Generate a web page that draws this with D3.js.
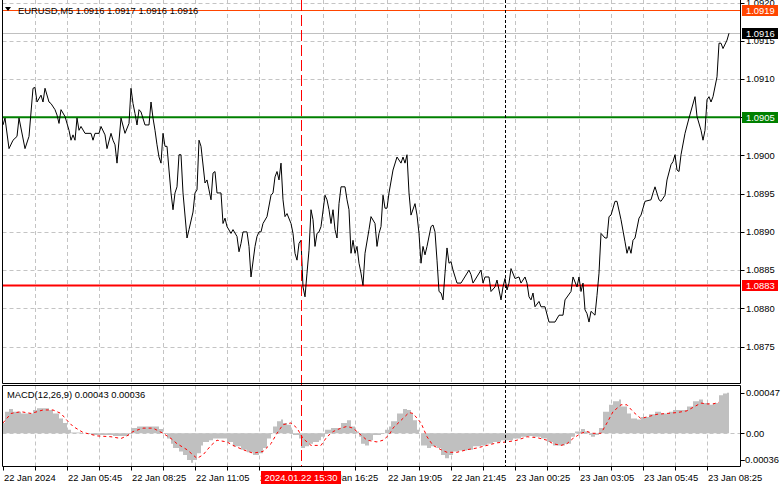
<!DOCTYPE html>
<html><head><meta charset="utf-8">
<script src="https://cdn.jsdelivr.net/npm/d3@7"></script>
<style>
html,body{margin:0;padding:0;background:#fff;}
svg{display:block;}
text{font-family:"Liberation Sans",Arial,sans-serif;font-size:9.4px;fill:#000;}
</style></head><body><svg id="c" width="781" height="489"></svg>
<script>
// ---------- DATA ----------
const headerText = "EURUSD,M5  1.0916 1.0917 1.0916 1.0916";
const macdTitle = "MACD(12,26,9) 0.00043 0.00036";

// bar index (5-minute bars from 22 Jan 03:05) and close price
const priceBars = [0,1,3,5,7,8,11,13,15,16,17,19,20,21,23,24,26,27,28,29,31,33,34,35,36,37,38,39,41,44,45,46,48,49,51,52,54,55,56,57,59,61,63,64,65,66,67,68,69,71,73,74,75,76,77,78,79,80,81,82,83,84,85,86,87,88,89,90,92,93,95,96,97,98,99,101,102,103,104,105,106,107,109,110,111,112,114,115,117,118,119,120,122,123,124,126,127,128,
129,130,132,134,135,136,137,138,139,140,141,142,144,145,146,147,148,149,150,151,152,153,154,155,156,157,158,159,161,162,163,164,165,166,167,168,169,171,172,173,174,175,176,177,178,179,180,181,183,184,186,187,188,189,190,191,192,193,195,197,199,200,201,202,203,204,206,207,208,209,210,211,212,214,215,216,217,218,219,220,221,222,223,224,225,227,229,233,234,235,239,240,241,243,244,246,247,249,250,
251,252,253,254,256,258,259,261,262,263,264,265,266,268,269,271,273,276,278,280,281,284,285,287,288,289,290,291,292,293,294,296,297,298,299,301,302,303,304,306,307,309,311,312,313,314,315,316,318,319,321,324,325,326,328,329,331,332,334,335,336,337,338,339,341,343,346,347,349,350,351,352,353,354,355,357,358,359,360,362,363];
const priceClose = [1.09040,1.09049,1.09009,1.09020,1.09025,1.09049,1.09009,1.09025,1.09088,1.09089,1.09070,1.09079,1.09070,1.09088,1.09070,1.09068,1.09060,1.09053,1.09042,1.09060,1.09051,1.09033,1.09020,1.09027,1.09020,1.09049,1.09033,1.09038,1.09029,1.09029,1.09020,1.09029,1.09029,1.09038,1.09027,1.09009,1.09029,1.09020,1.09014,1.08990,1.09049,1.09029,1.09042,1.09088,1.09068,1.09055,1.09040,1.09060,1.09057,1.09040,1.09040,1.09070,1.09049,1.09033,1.09014,1.08998,1.08990,1.09029,1.09012,1.09012,1.08981,1.08951,1.08929,1.08951,1.08959,1.09001,1.09001,1.08951,1.08892,1.08903,1.08926,1.08951,1.08955,1.09020,1.09012,1.08964,1.08968,1.08955,1.08942,1.08977,1.08979,1.08951,1.08951,1.08911,1.08918,1.08907,1.08898,1.08903,1.08894,1.08874,1.08885,1.08900,1.08900,1.08881,1.08841,1.08881,1.08894,1.08900,
1.08900,1.08911,1.08920,1.08948,1.08951,1.08972,1.08979,1.08968,1.08990,1.08942,1.08920,1.08924,1.08911,1.08898,1.08872,1.08863,1.08885,1.08889,1.08828,1.08815,1.08846,1.08876,1.08929,1.08916,1.08881,1.08898,1.08900,1.08907,1.08948,1.08942,1.08929,1.08911,1.08929,1.08903,1.08892,1.08937,1.08959,1.08959,1.08942,1.08929,1.08872,1.08889,1.08872,1.08881,1.08859,1.08846,1.08830,1.08872,1.08903,1.08920,1.08911,1.08881,1.08898,1.08907,1.08948,1.08931,1.08931,1.08951,1.08981,1.08998,1.08990,1.08998,1.08990,1.09001,1.08951,1.08922,1.08937,1.08922,1.08898,1.08859,1.08881,1.08870,1.08881,1.08907,1.08909,1.08900,1.08863,1.08822,1.08820,1.08811,1.08846,1.08879,1.08859,1.08861,1.08850,1.08833,1.08833,1.08850,1.08844,1.08833,1.08850,1.08833,1.08841,1.08841,1.08822,1.08828,1.08837,1.08811,1.08828,
1.08839,1.08824,1.08833,1.08852,1.08839,1.08841,1.08833,1.08841,1.08833,1.08815,1.08811,1.08820,1.08802,1.08809,1.08802,1.08802,1.08782,1.08782,1.08791,1.08791,1.08811,1.08822,1.08841,1.08828,1.08841,1.08822,1.08833,1.08798,1.08793,1.08782,1.08796,1.08791,1.08817,1.08846,1.08898,1.08892,1.08892,1.08920,1.08922,1.08940,1.08940,1.08916,1.08887,1.08872,1.08881,1.08872,1.08889,1.08892,1.08918,1.08922,1.08940,1.08942,1.08951,1.08959,1.08942,1.08940,1.08948,1.08968,1.08988,1.08992,1.09001,1.08981,1.08979,1.09001,1.09029,1.09049,1.09077,1.09051,1.09033,1.09020,1.09033,1.09073,1.09077,1.09070,1.09077,1.09103,1.09147,1.09147,1.09140,1.09151,1.09160];

// MACD main (histogram) and signal
const macdBars = [0,1,3,5,9,11,14,15,17,20,23,25,28,30,32,34,39,44,49,55,60,63,64,67,70,75,78,80,82,84,85,88,90,92,94,95,97,99,100,103,105,109,112,115,119,122,125,128,130,132,134,135,137,139,140,142,144,145,148,149,151,153,155,158,159,161,164,167,169,172,174,176,178,179,181,183,185,189,191,193,194,197,200,202,204,205,207,208,209,212,214,217,219,221,223,225,228,232,235,239,242,245,249,252,255,259,262,265,269,272,275,279,281,284,286,289,291,293,294,296,298,300,303,305,308,309,312,314,317,319,323,326,329,333,335,339,342,345,348,350,353,355,358,360,362,363];
const macdValues = [0.00012,0.00025,0.00028,0.00025,0.00023,0.00023,0.00023,0.00027,0.00029,0.00029,0.00027,0.00023,0.00017,0.00012,0.00004,0.00001,0,-0.00002,-0.00002,-0.00003,-0.00003,0,0.00006,0.00008,0.00008,0.00008,0.00005,0,-0.00006,-0.00012,-0.00017,-0.00021,-0.00025,-0.00031,-0.00034,-0.00031,-0.00023,-0.00014,-0.00010,-0.00008,-0.00006,-0.00006,-0.00010,-0.00015,-0.00019,-0.00022,-0.00025,-0.00023,-0.00017,-0.00006,0,0.00008,0.00014,0.00016,0.00012,0.00010,0.00004,-0.00002,-0.00006,-0.00017,-0.00015,-0.00012,-0.00010,-0.00008,-0.00004,0.00004,0.00006,0.00006,0.00012,0.00015,0.00008,0.00002,-0.00004,-0.00012,-0.00014,-0.00008,-0.00002,0,0.00004,0.00008,0.00014,0.00023,0.00028,0.00027,0.00023,0.00015,0.00004,0,-0.00014,-0.00017,-0.00015,-0.00017,-0.00025,-0.00029,-0.00025,-0.00021,-0.00020,-0.00019,-0.00015,-0.00014,-0.00012,-0.00010,-0.00008,-0.00008,-0.00006,-0.00004,-0.00003,-0.00004,-0.00006,-0.00010,-0.00014,-0.00014,-0.00012,-0.00004,0.00002,0.00005,0.00002,-0.00002,-0.00004,-0.00002,0.00006,0.00025,0.00033,0.00037,0.00039,0.00031,0.00023,0.00017,0.00016,0.00019,0.00022,0.00025,0.00023,0.00025,0.00027,0.00027,0.00031,0.00037,0.00039,0.00035,0.00033,0.00035,0.00044,0.00046,0.00047,0.00047];
const signalBars = [0,4,9,14,20,25,29,32,35,40,47,54,59,62,65,70,75,80,84,87,92,97,100,104,107,112,115,120,125,130,134,137,140,144,147,150,154,159,162,165,169,172,175,179,182,187,190,193,195,199,203,205,209,212,215,219,222,227,232,237,242,247,252,257,262,267,272,275,279,282,285,289,292,295,299,302,305,309,312,315,319,322,327,332,337,342,345,349,352,355,358];
const signalValues = [0.00012,0.00023,0.00025,0.00023,0.00027,0.00027,0.00023,0.00015,0.00008,0.00001,-0.00003,-0.00004,-0.00006,-0.00003,0.00002,0.00006,0.00006,0,-0.00006,-0.00012,-0.00019,-0.00029,-0.00025,-0.00014,-0.00008,-0.00010,-0.00014,-0.00019,-0.00023,-0.00021,-0.00012,0,0.00010,0.00012,0.00006,-0.00006,-0.00014,-0.00014,-0.00004,0.00002,0.00006,0.00008,0.00006,-0.00002,-0.00008,-0.00010,-0.00008,-0.00002,0.00006,0.00015,0.00024,0.00023,0.00012,-0.00004,-0.00014,-0.00019,-0.00022,-0.00022,-0.00019,-0.00017,-0.00014,-0.00011,-0.00010,-0.00008,-0.00004,-0.00005,-0.00008,-0.00012,-0.00014,-0.00012,-0.00006,0,0.00002,0,0,0.00012,0.00025,0.00033,0.00033,0.00025,0.00017,0.00019,0.00022,0.00023,0.00024,0.00026,0.00030,0.00035,0.00034,0.00034,0.00036];

const priceTicks = [1.0875,1.0880,1.0885,1.0890,1.0895,1.0900,1.0905,1.0910,1.0915,1.0920];
const macdTicks = [0.00047,0,-0.00036];
const macdTickLabels = ["0.00047","0.00","-0.00036"];
const timeTickBars = [0,32,64,96,128,160,192,224,256,288,320,352];
const timeTickLabels = ["22 Jan 2024","22 Jan 05:45","22 Jan 08:25","22 Jan 11:05","22 Jan 13:45","22 Jan 16:25","22 Jan 19:05","22 Jan 21:45","23 Jan 00:25","23 Jan 03:05","23 Jan 05:45","23 Jan 08:25"];

const askLevel = 1.0919, bidLevel = 1.0916, resistanceLevel = 1.0905, supportLevel = 1.0883;
const crosshairBar = 149, crosshairLabel = "2024.01.22 15:30";
const daySeparatorBar = 251;

// ---------- DRAWING ----------
const svg = d3.select("#c");
const L = 2.5, R = 740.5, mainBot = 383.5, macdTop = 385.5, macdBot = 466.5;
const x = d3.scaleLinear().domain([0, 368.5]).range([3, 740]);
const yP = d3.scaleLinear().domain([1.0875, 1.0920]).range([346.5, 2.7]);
const yM = d3.scaleLinear().domain([-0.00036, 0.00047]).range([464.4, 392.7]);
const gridBars = d3.range(16, 360, 16);
const gridColor = "#c4c4c4";
const snap = v => Math.round(v) + 0.5;

// clip paths
const defs = svg.append("defs");
defs.append("clipPath").attr("id","cm").append("rect").attr("x",L).attr("y",0).attr("width",R-L).attr("height",mainBot);
defs.append("clipPath").attr("id","cd").append("rect").attr("x",L).attr("y",macdTop).attr("width",R-L).attr("height",macdBot-macdTop);

// grid main
const gMain = svg.append("g").attr("clip-path","url(#cm)");
gMain.selectAll(".hg").data(priceTicks).join("line")
  .attr("x1",L).attr("x2",R).attr("y1",d=>snap(yP(d))).attr("y2",d=>snap(yP(d)))
  .attr("stroke",gridColor).attr("stroke-dasharray","4,3");
gMain.selectAll(".vg").data(gridBars).join("line")
  .attr("x1",d=>snap(x(d))).attr("x2",d=>snap(x(d))).attr("y1",0).attr("y2",mainBot)
  .attr("stroke",gridColor).attr("stroke-dasharray","4,3");

// grid macd
const gMacd = svg.append("g").attr("clip-path","url(#cd)");
gMacd.selectAll(".vg").data(gridBars).join("line")
  .attr("x1",d=>snap(x(d))).attr("x2",d=>snap(x(d))).attr("y1",macdTop).attr("y2",macdBot)
  .attr("stroke",gridColor).attr("stroke-dasharray","4,3");

// histogram
const macdData = macdBars.map((b,i)=>({b, v: macdValues[i]}));
gMacd.append("path").datum(macdData)
  .attr("d", d3.area().x(d=>x(d.b)).y0(yM(0)).y1(d=>yM(d.v)).curve(d3.curveStepAfter))
  .attr("fill","#c0c0c0");
gMacd.append("line").attr("x1",L).attr("x2",R).attr("y1",snap(yM(0))).attr("y2",snap(yM(0)))
  .attr("stroke",gridColor).attr("stroke-dasharray","4,3");
const sigData = signalBars.map((b,i)=>({b, v: signalValues[i]}));
gMacd.append("path").datum(sigData)
  .attr("d", d3.line().x(d=>x(d.b)).y(d=>yM(d.v)))
  .attr("fill","none").attr("stroke","#ff0000").attr("stroke-width",1).attr("stroke-dasharray","3,3");

// level lines
gMain.append("line").attr("x1",L).attr("x2",R).attr("y1",snap(yP(bidLevel))).attr("y2",snap(yP(bidLevel)))
  .attr("stroke","#c0c0c0");
gMain.append("line").attr("x1",L).attr("x2",R).attr("y1",snap(yP(askLevel))).attr("y2",snap(yP(askLevel)))
  .attr("stroke","#ff4500");
gMain.append("line").attr("x1",L).attr("x2",R).attr("y1",yP(resistanceLevel)).attr("y2",yP(resistanceLevel))
  .attr("stroke","#008000").attr("stroke-width",2);
gMain.append("line").attr("x1",L).attr("x2",R).attr("y1",yP(supportLevel)).attr("y2",yP(supportLevel))
  .attr("stroke","#ff0000").attr("stroke-width",2);

// price line
const priceData = priceBars.map((b,i)=>({b, v: priceClose[i]}));
gMain.append("path").datum(priceData)
  .attr("d", d3.line().x(d=>x(d.b)).y(d=>yP(d.v)))
  .attr("fill","none").attr("stroke","#000").attr("stroke-width",1);

// vertical markers
svg.append("line").attr("x1",snap(x(daySeparatorBar))).attr("x2",snap(x(daySeparatorBar)))
  .attr("y1",0).attr("y2",macdBot).attr("stroke","#000").attr("stroke-dasharray","3,2");
svg.append("line").attr("x1",snap(x(crosshairBar))).attr("x2",snap(x(crosshairBar)))
  .attr("y1",0).attr("y2",macdBot).attr("stroke","#ff0000").attr("stroke-dasharray","11,4");

// panel borders
const border = (x1,y1,x2,y2)=>svg.append("line").attr("x1",x1).attr("y1",y1).attr("x2",x2).attr("y2",y2).attr("stroke","#000");
border(L,0,L,mainBot); border(R,0,R,mainBot); border(L,mainBot,R,mainBot);
border(L,macdTop,R,macdTop); border(L,macdTop,L,macdBot); border(R,macdTop,R,macdBot); border(L,macdBot,R,macdBot);

// right price axis
const ax = svg.append("g");
ax.selectAll(".pt").data(priceTicks).join("line")
  .attr("x1",R).attr("x2",R+4).attr("y1",d=>snap(yP(d))).attr("y2",d=>snap(yP(d))).attr("stroke","#000");
ax.selectAll(".pl").data(priceTicks).join("text")
  .attr("x",746).attr("y",d=>yP(d)).attr("dy","0.35em").text(d=>d.toFixed(4));

// level boxes
const boxes = [
  {v: askLevel, fill:"#ff4500"},
  {v: bidLevel, fill:"#000000"},
  {v: resistanceLevel, fill:"#008000"},
  {v: supportLevel, fill:"#ff0000"}
];
boxes.forEach(b=>{
  const yy = yP(b.v);
  ax.append("rect").attr("x",742).attr("y",Math.round(yy-5.5)).attr("width",36).attr("height",11).attr("fill",b.fill);
  ax.append("text").attr("x",746).attr("y",yy).attr("dy","0.35em").style("fill","#fff").text(b.v.toFixed(4));
});

// macd axis
ax.selectAll(".mt").data(macdTicks).join("line")
  .attr("x1",R).attr("x2",R+4).attr("y1",d=>snap(Math.min(yM(d),460))).attr("y2",d=>snap(Math.min(yM(d),460))).attr("stroke","#000");
ax.selectAll(".ml").data(macdTicks).join("text")
  .attr("x",(d,i)=> d<0 ? 742 : 746).attr("y",d=>Math.min(yM(d),460)).attr("dy","0.35em").text((d,i)=>macdTickLabels[i]);

// time axis
ax.selectAll(".tt").data([0].concat(gridBars)).join("line")
  .attr("x1",d=>snap(x(d))).attr("x2",d=>snap(x(d))).attr("y1",macdBot).attr("y2",macdBot+4).attr("stroke","#000");
ax.selectAll(".tl").data(timeTickBars).join("text")
  .attr("x",d=>x(d)+1).attr("y",481).text((d,i)=>timeTickLabels[i]);

// crosshair label
const cx = x(crosshairBar);
ax.append("rect").attr("x",cx-40).attr("y",471).attr("width",80).attr("height",13).attr("fill","#ff0000");
ax.append("text").attr("x",cx).attr("y",481).attr("text-anchor","middle").style("fill","#fff").text(crosshairLabel);

// header
svg.append("path").attr("d","M5,7L11,7L8,11Z").attr("fill","#000");
svg.append("text").attr("x",18).attr("y",14).text(headerText);
svg.append("text").attr("x",7).attr("y",398).text(macdTitle);
</script></body></html>
